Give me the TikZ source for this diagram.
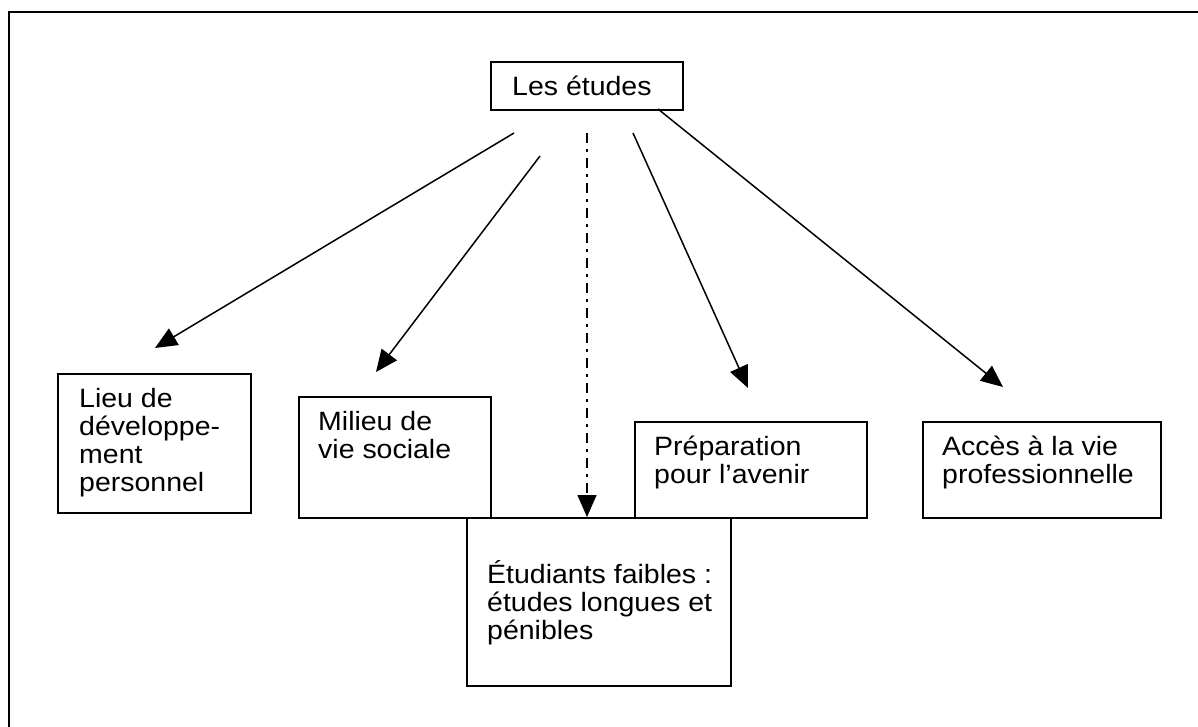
\documentclass[tikz,border=0pt]{standalone}
\usepackage{fontspec}
\setmainfont[FakeStretch=1.075]{Liberation Sans}
\usetikzlibrary{arrows.meta}
\begin{document}
\begin{tikzpicture}[x=1pt,y=-1pt,
  box/.style={draw, line width=1.8pt, inner sep=0pt, anchor=north west},
  txt/.style={anchor=north west, inner sep=0pt, align=left,
              font=\fontsize{26.5}{28}\selectfont},
  link/.style={line width=1.5pt, -{Triangle[length=22pt,width=19pt]}},
  dashdot/.style={link, dash pattern=on 10pt off 6pt on 3pt off 6pt},
]
\path[use as bounding box, clip] (0,0) rectangle (1198,726);
% page frame
\draw[line width=2pt] (9,740) -- (9,12) -- (1210,12);

% boxes
\node[box, minimum width=192pt, minimum height=48pt,
      font=\fontsize{26.5}{28}\selectfont] (top) at (490,61)
  {\hspace*{-10pt}Les études};
\node[box, minimum width=193pt, minimum height=139pt] (lieu)   at (57,373)  {};
\node[box, minimum width=192pt, minimum height=121pt] (milieu) at (298,396) {};
\node[box, minimum width=232pt, minimum height=96pt]  (prep)   at (634,421) {};
\node[box, minimum width=238pt, minimum height=96pt]  (acces)  at (922,421) {};
\node[box, minimum width=264pt, minimum height=168pt] (etud)   at (466,517) {};

% box texts
\node[txt] (lieuT)   at ([shift={(22,10)}]lieu.north west)
  {\rule{0pt}{24pt}Lieu de\\développe-\\ment\\personnel};
\node[txt] (milieuT) at ([shift={(20,10)}]milieu.north west)
  {\rule{0pt}{24pt}Milieu de\\vie sociale};
\node[txt] (prepT)   at ([shift={(20,10)}]prep.north west)
  {\rule{0pt}{24pt}Préparation\\pour l’avenir};
\node[txt] (accesT)  at ([shift={(20,10)}]acces.north west)
  {\rule{0pt}{24pt}Accès à la vie\\professionnelle};
\node[txt] (etudT)   at ([shift={(21,42)}]etud.north west)
  {\rule{0pt}{24pt}Étudiants faibles :\\études longues et\\pénibles};

% connector ends
\coordinate (s1) at (514,133);  \coordinate (e1) at (155,348);
\coordinate (s2) at (540,156);  \coordinate (e2) at (376,372);
\coordinate (s3) at (587,133);  \coordinate (e3) at (587,517);
\coordinate (s4) at (633,133);  \coordinate (e4) at (748,388);
\coordinate (s5) at (658,109);  \coordinate (e5) at (1003,387);

% connectors
\draw[link] (s1) -- (e1);
\draw[link] (s2) -- (e2);
\draw[dashdot] (s3) -- (e3);
\draw[link] (s4) -- (e4);
\draw[link] (s5) -- (e5);
\end{tikzpicture}
\end{document}
